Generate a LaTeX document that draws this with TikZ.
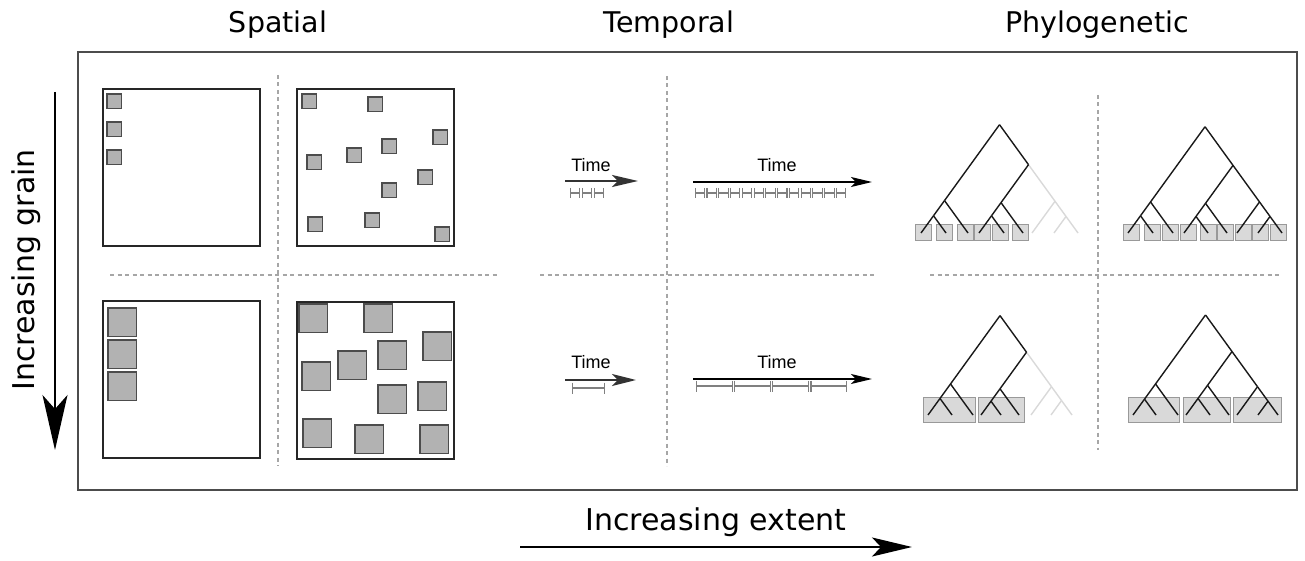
\documentclass[tikz,border=0pt]{standalone}
\usepackage{fontspec}
\usetikzlibrary{arrows.meta,calc}
\newfontfamily\headfont{DejaVu Sans}
\newfontfamily\timefont{Liberation Sans}

\newcommand{\treeslope}{1.38}
% internal node of a slanted cladogram, above the mid point of its outer leaves
\newcommand{\clade}[3]{\path let \p1=(#2), \p2=(#3) in coordinate (#1) at ({(\x1+\x2)/2},{\y1+(\x2-\x1)/2*\treeslope});}
\newcommand{\cladogram}[4]{%
  \foreach \lx [count=\leafno] in {#2} \coordinate (#1-\leafno) at (\lx,#3);
  \clade{#1-12}{#1-1}{#1-2}
  \clade{#1-123}{#1-1}{#1-3}
  \clade{#1-45}{#1-4}{#1-5}
  \clade{#1-456}{#1-4}{#1-6}
  \clade{#1-89}{#1-8}{#1-9}
  \clade{#1-789}{#1-7}{#1-9}
  \clade{#1-49}{#1-4}{#1-9}
  \clade{#1-r}{#1-1}{#1-9}
  \foreach \a/\b in {49/789,789/7,789/89,89/8,89/9} \draw[#4] (#1-\a) -- (#1-\b);
  \foreach \a/\b in {r/123,123/12,12/1,12/2,123/3,r/49,49/456,456/45,45/4,45/5,456/6} \draw[branch] (#1-\a) -- (#1-\b);
}
% x0, segment length, segments, y, half tick
\newcommand{\timebar}[5]{%
  \foreach \s in {1,...,#3}
    \draw[tick] ({#1+(\s-1)*#2+1.2},#4-#5) -- ++(0,2*#5) ++(0,-#5) -- ++(#2-2.4,0) ++(0,-#5) -- ++(0,2*#5);
}

\begin{document}
\begin{tikzpicture}[x=1pt,y=-1pt,
  head/.style={font=\headfont\fontsize{28.5}{34}\selectfont,anchor=base},
  axislabel/.style={font=\headfont\fontsize{30}{36}\selectfont,anchor=base},
  timelabel/.style={font=\timefont\fontsize{18}{21}\selectfont,anchor=base},
  site/.style={draw=black!85,line width=1.2pt},
  patch/.style={draw=black!70,fill=black!30,line width=1.2pt},
  divider/.style={draw=black!35,line width=1.2pt,dash pattern=on 4pt off 3.5pt},
  tick/.style={draw=black!50,line width=1.1pt},
  branch/.style={draw=black!90,line width=1.4pt,line join=round},
  lostbranch/.style={draw=black!15,line width=1.4pt,line join=round},
  leafbox/.style={draw=black!40,fill=black!15,line width=1pt}]
\useasboundingbox (0,0) rectangle (1305,561);

\node[head] (spatial) at (278,33) {Spatial};
\node[head] (temporal) at (669,33) {Temporal};
\node[head] (phylo) at (1097,33) {Phylogenetic};
\draw[black!70,line width=2pt] (78,52) rectangle (1297,490);

% dividers
\draw[divider] (278,75)--(278,466) (667,76)--(667,466) (1098,95)--(1098,450);
\draw[divider] (110,275)--(499,275) (540,275)--(876,275) (930,275)--(1282,275);

% spatial
\draw[site] (103,89) rectangle (260,246);
\draw[site] (297,89) rectangle (454,246);
\draw[site] (103,301) rectangle (260,458);
\draw[site] (297,302) rectangle (454,459);
\foreach \x/\y in {107/94,107/122,107/150,302/94,368/97,433/130,382/139,347/148,307/155,418/170,382/183,365/213,308/217,435/227}
  \draw[patch] (\x,\y) rectangle ++(14.5,14.5);
\foreach \x/\y in {108/308,108/340,108/372,299/304,364/304,423/332,378/341,338/351,302/362,418/382,378/385,303/419,355/425,420/425}
  \draw[patch] (\x,\y) rectangle ++(28.5,28.5);

% temporal
\node[timelabel] (time1) at (591,172) {Time};
\node[timelabel] (time2) at (777,172) {Time};
\node[timelabel] (time3) at (591,368) {Time};
\node[timelabel] (time4) at (777,368) {Time};
\coordinate (a1s) at (565,181); \coordinate (a1e) at (638,181);
\coordinate (a2s) at (693,182); \coordinate (a2e) at (872,182);
\coordinate (a3s) at (565,380); \coordinate (a3e) at (636,380);
\coordinate (a4s) at (693,379); \coordinate (a4e) at (872,379);
\draw[black!80,line width=2.5pt,-{Stealth[length=26pt,width=12pt,inset=6pt]}] (a1s) -- (a1e);
\draw[black!80,line width=2.5pt,-{Stealth[length=24pt,width=12pt,inset=6pt]}] (a3s) -- (a3e);
\draw[black,line width=1.3pt,-{Stealth[length=21pt,width=10pt,inset=5pt]}] (a2s) -- (a2e);
\draw[black,line width=1.3pt,-{Stealth[length=21pt,width=10pt,inset=5pt]}] (a4s) -- (a4e);
\timebar{569}{12}{3}{193}{5}
\timebar{694}{11.77}{13}{193}{5}
\timebar{571}{35}{1}{388}{5.5}
\timebar{695}{38.25}{4}{386}{5.5}

% phylogenetic
\foreach \x in {915,936,957,974,992,1012,1123,1144,1162,1180,1200,1217,1235,1252,1270}
  \draw[leafbox] (\x,225) rectangle ++(16,16);
\foreach \x/\w in {923/52,978/46,1128/51,1183/47,1233/48}
  \draw[leafbox] (\x,397) rectangle ++(\w,25);
\cladogram{tl}{921,946,968,979,1004,1023,1032,1054,1078}{233}{lostbranch}
\cladogram{tr}{1128,1153,1173,1184,1208,1227,1237,1258,1282}{233}{branch}
\cladogram{bl}{928,952,973,981,1001,1019,1031,1051,1072}{415}{lostbranch}
\cladogram{br}{1133,1156,1178,1186,1210,1229,1237,1258,1278}{415}{branch}

% axes
\node[axislabel,rotate=90] (grain) at (34,270) {Increasing grain};
\coordinate (grainstart) at (55,92); \coordinate (grainend) at (55,450);
\draw[line width=2pt,-{Stealth[length=55pt,width=25pt,inset=14pt]}] (grainstart) -- (grainend);
\node[axislabel] (extent) at (716,530) {Increasing extent};
\coordinate (extentstart) at (520,547); \coordinate (extentend) at (912,547);
\draw[line width=2pt,-{Stealth[length=40pt,width=19pt,inset=9pt]}] (extentstart) -- (extentend);

\end{tikzpicture}
\end{document}
